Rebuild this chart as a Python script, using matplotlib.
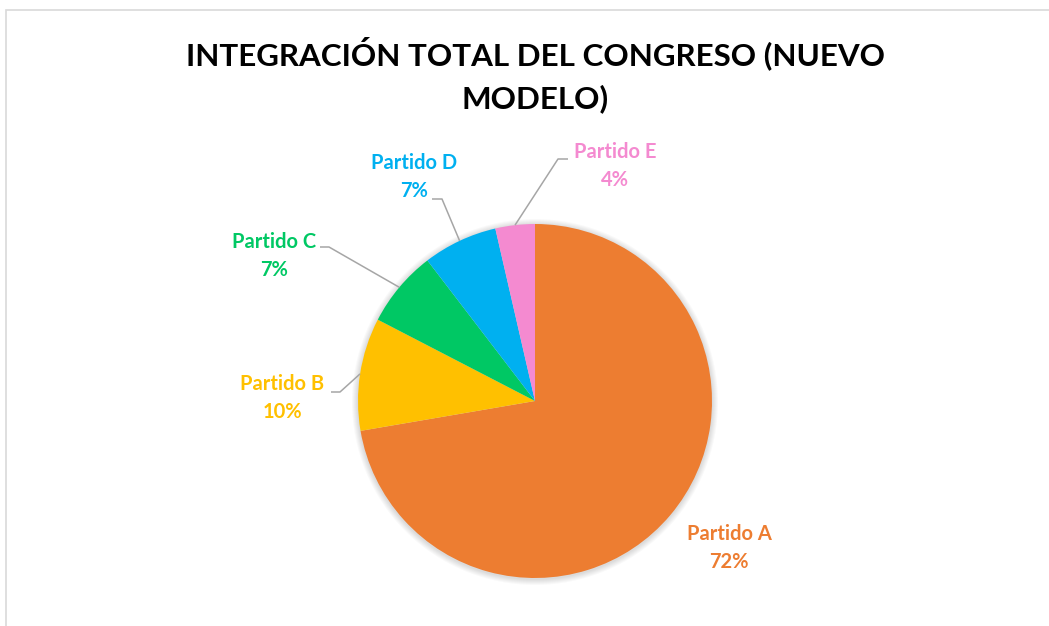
import numpy as np
import matplotlib
matplotlib.use("Agg")
import matplotlib.pyplot as plt
from matplotlib.patches import Circle, Rectangle

# datos (porcentaje de escaños)
partidos = ["Partido A", "Partido B", "Partido C", "Partido D", "Partido E"]
valores = [72.3, 10.3, 7.0, 6.8, 3.6]
colores = ["#ED7D31", "#FFC000", "#00C864", "#00B0F0", "#F48AD0"]

W, H = 1049, 626
fig = plt.figure(figsize=(W / 100, H / 100), dpi=100)
ax = fig.add_axes([0, 0, 1, 1])

def Y(y):
    # pixel y (desde arriba) -> coordenada del eje
    return H - y

cx, cy, r = 535, Y(401), 177

# marco del área del gráfico
ax.add_patch(Rectangle((6, -20), W + 40, Y(10) + 20, fill=False, ec="#D9D9D9", lw=1.2))

# sombra suave
for k in range(6):
    ax.add_patch(Circle((cx, cy - 1), r + 1 + k, color="#000000", alpha=0.025, lw=0, zorder=0))

wedges, _ = ax.pie(valores, colors=colores, startangle=90, counterclock=False,
                   radius=r, center=(cx, cy), frame=True,
                   wedgeprops=dict(linewidth=0))

ax.set_xlim(0, W)
ax.set_ylim(0, H)
ax.set_aspect("equal")
ax.axis("off")

fuente = ["Lato", "DejaVu Sans"]

ax.text(cx, Y(75), "INTEGRACIÓN TOTAL DEL CONGRESO (NUEVO\nMODELO)", ha="center", va="center",
        fontsize=22.6, fontweight="bold", family=fuente, color="#000000", linespacing=1.57)

# posiciones de etiquetas y codos de las líneas guía (pixeles)
etiquetas_pos = [(729, 548), (282, 398), (274, 256), (414, 177), (615, 166)]
codos = [None, [(340, 392), (331, 392)], [(329, 247), (320, 247)],
         [(442, 199), (432, 199)], [(558, 159), (568, 159)]]

total = sum(valores)
for w, nombre, v, col, (lx, ly), codo in zip(wedges, partidos, valores, colores, etiquetas_pos, codos):
    ax.text(lx, Y(ly), f"{nombre}\n{v / total * 100:.0f}%", ha="center", va="center",
            fontsize=14.5, fontweight="bold", family=fuente, color=col, linespacing=1.5)
    if codo is not None:
        ang = np.deg2rad((w.theta1 + w.theta2) / 2)
        px = cx + r * np.cos(ang)
        py = cy + r * np.sin(ang)
        xs = [px] + [c[0] for c in codo]
        ys = [py] + [Y(c[1]) for c in codo]
        ax.plot(xs, ys, color="#A6A6A6", lw=1.1, solid_capstyle="butt")

fig.savefig("out.png", dpi=100)
